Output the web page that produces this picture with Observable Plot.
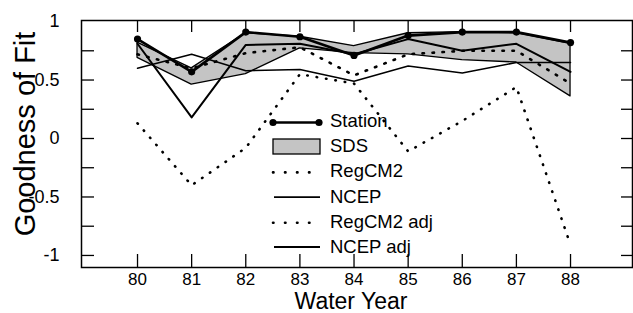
<!DOCTYPE html>
<html>
<head>
<meta charset="utf-8">
<script src="https://cdn.jsdelivr.net/npm/d3@7"></script>
<script src="https://cdn.jsdelivr.net/npm/@observablehq/plot@0.6"></script>
<style>
  html, body { margin: 0; padding: 0; background: #fff; }
  #chart { width: 633px; height: 313px; overflow: hidden; }
</style>
</head>
<body>
<div id="chart"></div>
<script>
// ---- data ----
const years      = [80, 81, 82, 83, 84, 85, 86, 87, 88];
const station    = [0.85, 0.57, 0.91, 0.87, 0.71, 0.88, 0.91, 0.91, 0.82];
const sdsUpper   = [0.82, 0.60, 0.90, 0.87, 0.79, 0.90, 0.91, 0.90, 0.81];
const sdsLower   = [0.69, 0.46, 0.55, 0.77, 0.73, 0.72, 0.67, 0.65, 0.36];
const regcm2     = [0.13, -0.40, -0.08, 0.55, 0.47, -0.11, 0.15, 0.44, -0.91];
const ncep       = [0.60, 0.72, 0.58, 0.59, 0.49, 0.62, 0.56, 0.65, 0.65];
const regcm2Adj  = [0.72, 0.60, 0.73, 0.78, 0.54, 0.72, 0.75, 0.75, 0.47];
const ncepAdj    = [0.81, 0.18, 0.80, 0.81, 0.72, 0.85, 0.75, 0.81, 0.57];
const yTickLabels = [-1, -0.5, 0, 0.5, 1];
const yMinorTicks = [-1, -0.75, -0.5, -0.25, 0, 0.25, 0.5, 0.75];
const legendLabels = ["Station", "SDS", "RegCM2", "NCEP", "RegCM2 adj", "NCEP adj"];
const xTitle = "Water Year";
const yTitle = "Goodness of Fit";

const rows = years.map((year, i) => ({
  year, station: station[i], hi: sdsUpper[i], lo: sdsLower[i],
  regcm2: regcm2[i], ncep: ncep[i], regcm2Adj: regcm2Adj[i], ncepAdj: ncepAdj[i]
}));

const W = 633, H = 313, mL = 81, mR = 1, mT = 20, mB = 46;
const plotW = W - mL - mR, plotH = H - mT - mB;
const FONT = "'Liberation Sans', Arial, Helvetica, sans-serif";

const dotted = {stroke: "black", strokeWidth: 2.6, strokeLinecap: "round", strokeDasharray: "0.5,9"};
const dotted2 = {stroke: "black", strokeWidth: 2.6, strokeLinecap: "round", strokeDasharray: "1.5,8.5"};

const svg = Plot.plot({
  width: W, height: H,
  marginLeft: mL, marginRight: mR, marginTop: mT, marginBottom: mB,
  style: {fontFamily: FONT, background: "white", color: "black", overflow: "visible"},
  x: {domain: [78.965, 89.145]},
  y: {domain: [-1.103, 1.009]},
  marks: [
    Plot.areaY(rows, {x: "year", y1: "lo", y2: "hi", fill: "#c4c4c4", stroke: "black", strokeWidth: 1.3}),
    Plot.lineY(rows, {x: "year", y: "regcm2", ...dotted}),
    Plot.lineY(rows, {x: "year", y: "regcm2Adj", ...dotted2}),
    Plot.lineY(rows, {x: "year", y: "ncep", stroke: "black", strokeWidth: 1.5}),
    Plot.lineY(rows, {x: "year", y: "ncepAdj", stroke: "black", strokeWidth: 2}),
    Plot.lineY(rows, {x: "year", y: "station", stroke: "black", strokeWidth: 2.6}),
    Plot.dot(rows, {x: "year", y: "station", r: 3.6, fill: "black"}),
    // inward ticks on all four sides
    Plot.tickY(yMinorTicks, {y: d => d, stroke: "black", strokeWidth: 1.3, insetRight: plotW - 13}),
    Plot.tickY(yMinorTicks, {y: d => d, stroke: "black", strokeWidth: 1.3, insetLeft: plotW - 11}),
    Plot.tickX(years, {x: d => d, stroke: "black", strokeWidth: 1.3, insetTop: plotH - 13}),
    Plot.tickX(years, {x: d => d, stroke: "black", strokeWidth: 1.3, insetBottom: plotH - 12}),
    Plot.axisX({ticks: years, tickSize: 0, tickPadding: 5, fontSize: 17, label: null, tickFormat: d => String(d)}),
    Plot.axisY({ticks: yTickLabels, tickSize: 0, tickPadding: 22, fontSize: 18, label: null, tickFormat: d => String(d)}),
    Plot.frame({stroke: "black", strokeWidth: 1.5})
  ]
});

const s = d3.select(svg);
// axis titles
s.append("text").attr("x", 351).attr("y", 309).attr("text-anchor", "middle")
  .attr("font-size", 23).attr("font-family", FONT).attr("fill", "black").text(xTitle);
s.append("text").attr("transform", "translate(35,134) rotate(-90)").attr("text-anchor", "middle")
  .attr("font-size", 29).attr("font-family", FONT).attr("fill", "black").text(yTitle);

// legend
const lg = s.append("g").attr("font-family", FONT).attr("font-size", 18.5).attr("fill", "black")
  .attr("text-anchor", "start");
const lx0 = 273, lx1 = 319, tx = 330;
const base = i => 127 + i * 25.2;
legendLabels.forEach((lab, i) => {
  lg.append("text").attr("x", tx).attr("y", base(i)).attr("text-anchor", "start").text(lab);
});
// Station
let cy = base(0) - 4.5;
lg.append("line").attr("x1", lx0).attr("x2", lx1).attr("y1", cy).attr("y2", cy).attr("stroke", "black").attr("stroke-width", 2.6);
[lx0, lx1].forEach(x => lg.append("circle").attr("cx", x).attr("cy", cy).attr("r", 3.6).attr("fill", "black"));
// SDS
lg.append("rect").attr("x", lx0).attr("y", 139).attr("width", lx1 - lx0 + 1).attr("height", 15)
  .attr("fill", "#c4c4c4").attr("stroke", "black").attr("stroke-width", 1.3);
// RegCM2
cy = base(2) - 5;
lg.append("line").attr("x1", lx0).attr("x2", lx1 + 2).attr("y1", cy).attr("y2", cy)
  .attr("stroke", "black").attr("stroke-width", 2.6).attr("stroke-linecap", "round").attr("stroke-dasharray", "0.5,11.5");
// NCEP
cy = base(3) - 5.5;
lg.append("line").attr("x1", lx0 + 1).attr("x2", lx1 + 1).attr("y1", cy).attr("y2", cy).attr("stroke", "black").attr("stroke-width", 1.8);
// RegCM2 adj
cy = base(4) - 5;
lg.append("line").attr("x1", lx0).attr("x2", lx1 + 2).attr("y1", cy).attr("y2", cy)
  .attr("stroke", "black").attr("stroke-width", 2.6).attr("stroke-linecap", "round").attr("stroke-dasharray", "0.5,11.5");
// NCEP adj
cy = base(5) - 6;
lg.append("line").attr("x1", lx0 + 1).attr("x2", lx1 + 1).attr("y1", cy).attr("y2", cy).attr("stroke", "black").attr("stroke-width", 2.2);

document.getElementById("chart").appendChild(svg);
</script>
</body>
</html>
